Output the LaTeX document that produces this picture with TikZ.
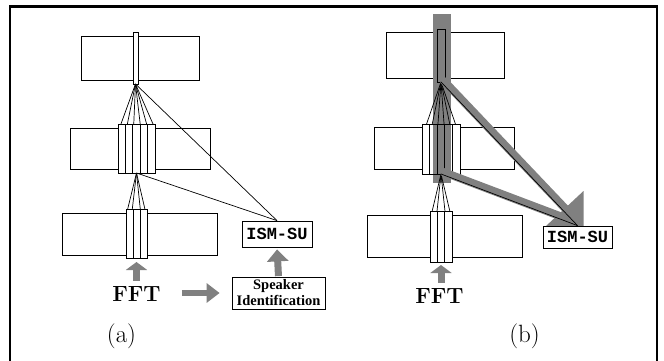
\documentclass[tikz,border=0pt]{standalone}
\usepackage{fontspec}
\newfontfamily\tserif{Liberation Serif}
\newfontfamily\tmono{Liberation Mono}
\usetikzlibrary{arrows.meta,calc}
\definecolor{gcol}{RGB}{128,128,128}
\begin{document}
\begin{tikzpicture}[x=1pt,y=-1pt,
  layer/.style={draw=black,line width=0.8pt,fill=white},
  colgrp/.style={draw=black,line width=0.8pt,inner sep=0pt,outer sep=0pt},
  thinl/.style={draw=black,line width=0.7pt},
  garrow/.style n args={3}{draw=gcol,line width=#3,-{Triangle[length=#1 0,width=#2 0]}},
  ismbox/.style={draw=black,line width=0.8pt,fill=white,inner sep=0pt,font=\tmono\bfseries\fontsize{17}{20}\selectfont},
  fftst/.style={inner sep=0pt,font=\bfseries\fontsize{22}{26}\selectfont},
  lbl/.style={inner sep=0pt,font=\fontsize{25}{30}\selectfont}]
\useasboundingbox (0,0) rectangle (664,361);
% frame
\draw[line width=2.5pt] (10,361) -- (10,6.3) -- (657,6.3) -- (657,361);

% ================= panel (a) =================
\path[layer] (81,36) rectangle (199,80);
\path[layer] (70,128) rectangle (210,169);
\path[layer] (62,213) rectangle (217,255);
\node[colgrp,fill=white,minimum width=5pt,minimum height=52pt] (atc) at (135.5,58) {};
\node[colgrp,fill=white,minimum width=37pt,minimum height=49pt] (amc) at (136.5,148.5) {};
\foreach \i in {1,...,4}
  \draw[thinl] ($(amc.north west)!\i/5!(amc.north east)$) -- ($(amc.south west)!\i/5!(amc.south east)$);
\node[colgrp,fill=white,minimum width=21pt,minimum height=49pt] (abc) at (136.5,233.5) {};
\foreach \i in {1,2}
  \draw[thinl] ($(abc.north west)!\i/3!(abc.north east)$) -- ($(abc.south west)!\i/3!(abc.south east)$);
\foreach \f in {0.08,0.253,0.426,0.6,0.773,0.946}
  \draw[thinl] (atc.south) -- ($(amc.north west)!\f!(amc.north east)$);
\foreach \f in {0.08,0.3,0.68,0.9}
  \draw[thinl] (amc.south) -- ($(abc.north west)!\f!(abc.north east)$);
\node[ismbox,minimum width=70pt,minimum height=26pt] (aism) at (277,234) {ISM-SU};
\draw[thinl] (atc.south) -- (aism.north);
\draw[thinl] (amc.south) -- (aism.north);
\node[draw=black,line width=0.8pt,fill=white,inner sep=0pt,minimum width=93pt,minimum height=32pt,
  align=center,font=\tserif\bfseries\fontsize{14.5}{16}\selectfont] (aspk) at (278.5,293) {Speaker\\Identification};
\node[fftst,anchor=base] (afft) at (136.5,301) {FFT};
\draw[garrow={8pt}{21pt}{7.5pt},shorten <=5pt,shorten >=4pt] (abc.south |- afft.north) -- (abc.south);
\draw[garrow={13pt}{19pt}{6.5pt},shorten <=21pt,shorten >=12pt] (afft.east |- aspk.west) -- (aspk.west);
\draw[garrow={12pt}{21pt}{7pt},shorten <=0.5pt,shorten >=2pt] (aspk.north) -- (aism.south);
\node[lbl] (la) at (121.5,336.5) {(a)};

% ================= panel (b) =================
\path[layer] (386,32) rectangle (504,78);
\path[layer] (374,127) rectangle (514,169);
\path[layer] (367,215) rectangle (522,257);
\node[minimum width=8pt,minimum height=53pt,inner sep=0pt,outer sep=0pt] (btc) at (441,55.5) {};
\node[colgrp,draw=none,fill=white,minimum width=38pt,minimum height=50pt] (bmc) at (441,149) {};
\fill[gcol] (433,14) rectangle (451,183);
\draw[line width=0.8pt] (btc.south west) rectangle (btc.north east);
\draw[line width=0.8pt] (bmc.south west) rectangle (bmc.north east);
\foreach \i in {1,...,4}
  \draw[thinl] ($(bmc.north west)!\i/5!(bmc.north east)$) -- ($(bmc.south west)!\i/5!(bmc.south east)$);
\node[colgrp,fill=white,minimum width=22pt,minimum height=51pt] (bbc) at (441,236.5) {};
\foreach \i in {1,2}
  \draw[thinl] ($(bbc.north west)!\i/3!(bbc.north east)$) -- ($(bbc.south west)!\i/3!(bbc.south east)$);
\foreach \f in {0.12,0.27,0.42,0.58,0.73,0.88}
  \draw[thinl] (btc.south) -- ($(bmc.north west)!\f!(bmc.north east)$);
\foreach \f in {0.1,0.32,0.68,0.9}
  \draw[thinl] (bmc.south) -- ($(bbc.north west)!\f!(bbc.north east)$);
\node[ismbox,minimum width=69pt,minimum height=22pt] (bism) at (577.5,237) {ISM-SU};
% gray paths to ISM-SU
\draw[gcol,line width=8pt] ([xshift=2pt,yshift=2pt]btc.south) -- ([xshift=2pt,yshift=2pt]bism.north);
\draw[gcol,line width=8pt] ([xshift=1pt,yshift=2.5pt]bmc.south) -- ([xshift=1pt,yshift=2.5pt]bism.north);
\fill[gcol] (583.5,191) -- (583.5,226) -- (546,226) -- cycle;
\draw[thinl] (btc.south) -- (bism.north);
\draw[thinl] (bmc.south) -- (bism.north);
\node[ismbox,minimum width=69pt,minimum height=22pt] at (bism) {ISM-SU};
\node[fftst,anchor=base] (bfft) at (439.5,303) {FFT};
\draw[garrow={8pt}{21pt}{7pt},shorten <=5pt,shorten >=3pt] (bbc.south |- bfft.north) -- (bbc.south);
\node[lbl] (lb) at (524.5,336.5) {(b)};
\end{tikzpicture}
\end{document}
